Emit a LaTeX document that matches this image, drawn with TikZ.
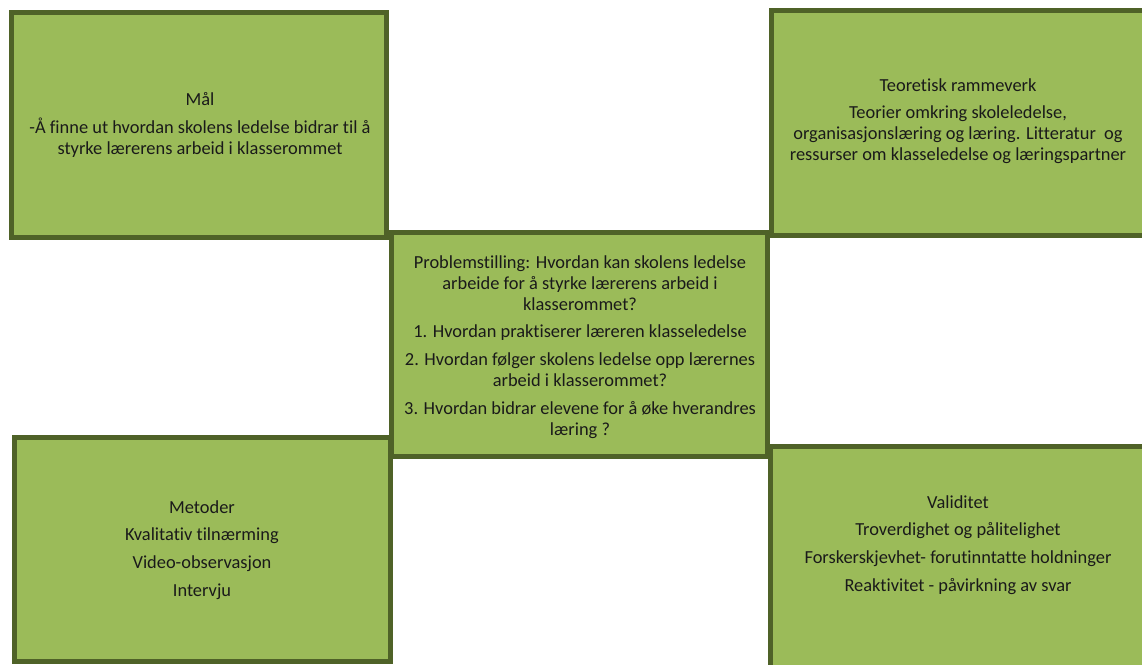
\documentclass[tikz,border=0pt]{standalone}
\usepackage{fontspec}
\setmainfont[Ligatures=NoCommon]{Carlito}
\definecolor{boxfill}{HTML}{9BBB59}
\definecolor{boxline}{HTML}{4F6228}
\definecolor{txt}{HTML}{1A1A1A}
\begin{document}
\begin{tikzpicture}[x=1pt,y=-1pt,
  panel/.style={draw=boxline, fill=boxfill, line width=5pt, rectangle, inner sep=0pt, outer sep=0pt, anchor=north west},
  panellabel/.style={align=center, inner sep=0pt, text=txt, font=\fontsize{18.4}{20.8}\selectfont}]
\useasboundingbox (0,0) rectangle (1142,664);
\clip (0,0) rectangle (1142,664);
\node[panel, minimum width=375pt, minimum height=225pt] (mal) at (11.5,12.5) {};
\node[panel, minimum width=375pt, minimum height=225pt] (teori) at (771.5,10.5) {};
\node[panel, minimum width=376pt, minimum height=224pt] (problem) at (391.5,232.5) {};
\node[panel, minimum width=376pt, minimum height=224pt] (metoder) at (14.5,437.5) {};
\node[panel, minimum width=376pt, minimum height=226pt] (validitet) at (770.5,446.5) {};

\node[panellabel] (maltxt) at (200,125) {Mål\\[7pt]-Å finne ut hvordan skolens ledelse bidrar til å\\styrke lærerens arbeid i klasserommet};
\node[panellabel] (teoritxt) at (958,121) {Teoretisk rammeverk\\[7pt]Teorier omkring skoleledelse,\\organisasjonslæring og læring. Litteratur\ \ og\\ressurser om klasseledelse og læringspartner};
\node[panellabel] (problemtxt) at (580,347) {Problemstilling: Hvordan kan skolens ledelse\\arbeide for å styrke lærerens arbeid i\\klasserommet?\\[7pt]1. Hvordan praktiserer læreren klasseledelse\\[7pt]2. Hvordan følger skolens ledelse opp lærernes\\arbeid i klasserommet?\\[7pt]3. Hvordan bidrar elevene for å øke hverandres\\læring ?};
\node[panellabel] (metodertxt) at (202,550) {Metoder\\[7pt]Kvalitativ tilnærming\\[7pt]Video-observasjon\\[7pt]Intervju};
\node[panellabel] (validitettxt) at (958,545) {Validitet\\[7pt]Troverdighet og pålitelighet\\[7pt]Forskerskjevhet- forutinntatte holdninger\\[7pt]Reaktivitet - påvirkning av svar};
\end{tikzpicture}
\end{document}
